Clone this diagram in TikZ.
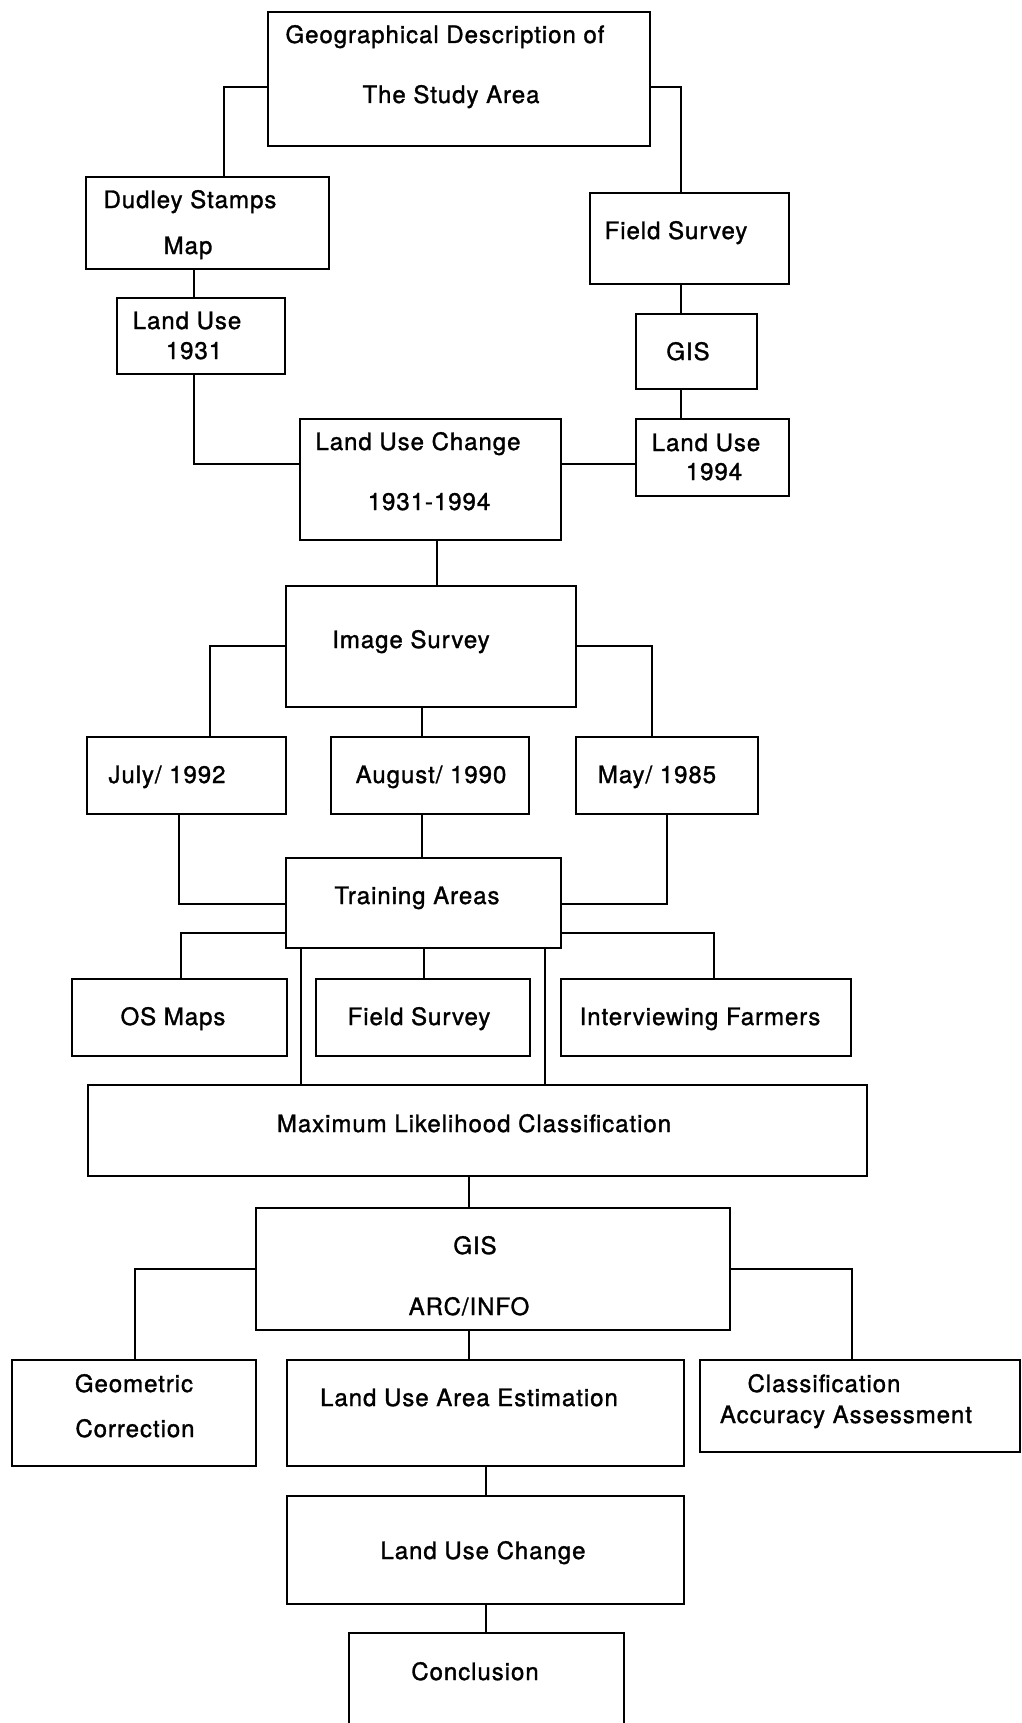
\documentclass[tikz,border=0pt]{standalone}
\usepackage{fontspec}
\setmainfont{TeX Gyre Heros}[LetterSpace=4,FakeBold=1.3]
\usetikzlibrary{fit}
\begin{document}
\begin{tikzpicture}[x=1pt,y=-1pt,
  box/.style={draw=black,line width=2.6pt,inner sep=0pt,fill=none},
  txt/.style={anchor=base,inner sep=0pt,font=\fontsize{24}{27}\selectfont},
  link/.style={draw=black,line width=2pt}]
\useasboundingbox[fill=white] (0,0) rectangle (1022,1723);
% boxes
\node[box,fit={(268,12)(650,146)}] (geo) {};
\node[box,fit={(86,177)(329,269)}] (dudley) {};
\node[box,fit={(117,298)(285,374)}] (lu31) {};
\node[box,fit={(590,193)(789,284)}] (fs1) {};
\node[box,fit={(636,314)(757,389)}] (gis1) {};
\node[box,fit={(636,419)(789,496)}] (lu94) {};
\node[box,fit={(300,419)(561,540)}] (luc1) {};
\node[box,fit={(286,586)(576,707)}] (imgs) {};
\node[box,fit={(87,737)(286,814)}] (july) {};
\node[box,fit={(331,737)(529,814)}] (aug) {};
\node[box,fit={(576,737)(758,814)}] (may) {};
\node[box,fit={(286,858)(561,948)}] (train) {};
\node[box,fit={(72,979)(287,1056)}] (os) {};
\node[box,fit={(316,979)(530,1056)}] (fs2) {};
\node[box,fit={(561,979)(851,1056)}] (intv) {};
\node[box,fit={(88,1085)(867,1176)}] (mlc) {};
\node[box,fit={(256,1208)(730,1330)}] (gisarc) {};
\node[box,fit={(12,1360)(256,1466)}] (geom) {};
\node[box,fit={(287,1360)(684,1466)}] (luae) {};
\node[box,fit={(700,1360)(1020,1452)}] (class) {};
\node[box,fit={(287,1496)(684,1604)}] (luc2) {};
\node[box,fit={(349,1633)(624,1745)}] (concl) {};
% texts
\node[txt] (geo1) at (445,43) {Geographical Description of};
\node[txt] (geo2) at (451,103) {The Study Area};
\node[txt] (dud1) at (190,208) {Dudley Stamps};
\node[txt] (dud2) at (188,254) {Map};
\node[txt] (lu31a) at (187,329) {Land Use};
\node[txt] (lu31b) at (194,359) {1931};
\node[txt] (fs1t) at (676,239) {Field Survey};
\node[txt] (gis1t) at (688,360) {GIS};
\node[txt] (lu94a) at (706,451) {Land Use};
\node[txt] (lu94b) at (714,480) {1994};
\node[txt] (luc1a) at (418,450) {Land Use Change};
\node[txt] (luc1b) at (429,510) {1931-1994};
\node[txt] (imgst) at (411,648) {Image Survey};
\node[txt] (julyt) at (167,783) {July/ 1992};
\node[txt] (augt) at (431,783) {August/ 1990};
\node[txt] (mayt) at (657,783) {May/ 1985};
\node[txt] (traint) at (417,904) {Training Areas};
\node[txt] (ost) at (173,1025) {OS Maps};
\node[txt] (fs2t) at (419,1025) {Field Survey};
\node[txt] (intvt) at (700,1025) {Interviewing Farmers};
\node[txt] (mlct) at (474,1132) {Maximum Likelihood Classification};
\node[txt] (gisa) at (475,1254) {GIS};
\node[txt] (gisb) at (469,1315) {ARC/INFO};
\node[txt] (geoma) at (134,1392) {Geometric};
\node[txt] (geomb) at (135,1437) {Correction};
\node[txt] (luaet) at (469,1406) {Land Use Area Estimation};
\node[txt] (classa) at (824,1392) {Classification};
\node[txt] (classb) at (846,1423) {Accuracy Assessment};
\node[txt] (luc2t) at (483,1559) {Land Use Change};
\node[txt] (conclt) at (475,1680) {Conclusion};
% connectors
\draw[link] (geo.west |- 0,87) -| (dudley.north -| 224,0);
\draw[link] (geo.east |- 0,87) -| (fs1.north -| 681,0);
\draw[link] (dudley.south -| 194,0) -- (lu31.north -| 194,0);
\draw[link] (lu31.south -| 194,0) |- (luc1.west |- 0,464);
\draw[link] (fs1.south -| 681,0) -- (gis1.north -| 681,0);
\draw[link] (gis1.south -| 681,0) -- (lu94.north -| 681,0);
\draw[link] (luc1.east |- 0,464) -- (lu94.west |- 0,464);
\draw[link] (luc1.south -| 437,0) -- (imgs.north -| 437,0);
\draw[link] (imgs.west |- 0,646) -| (july.north -| 210,0);
\draw[link] (imgs.east |- 0,646) -| (may.north -| 652,0);
\draw[link] (imgs.south -| 422,0) -- (aug.north -| 422,0);
\draw[link] (july.south -| 179,0) |- (train.west |- 0,904);
\draw[link] (aug.south -| 422,0) -- (train.north -| 422,0);
\draw[link] (may.south -| 667,0) |- (train.east |- 0,904);
\draw[link] (train.west |- 0,933) -| (os.north -| 181,0);
\draw[link] (train.east |- 0,933) -| (intv.north -| 714,0);
\draw[link] (train.south -| 424,0) -- (fs2.north -| 424,0);
\draw[link] (train.south -| 301,0) -- (mlc.north -| 301,0);
\draw[link] (train.south -| 545,0) -- (mlc.north -| 545,0);
\draw[link] (mlc.south -| 469,0) -- (gisarc.north -| 469,0);
\draw[link] (gisarc.west |- 0,1269) -| (geom.north -| 135,0);
\draw[link] (gisarc.east |- 0,1269) -| (class.north -| 852,0);
\draw[link] (gisarc.south -| 469,0) -- (luae.north -| 469,0);
\draw[link] (luae.south -| 486,0) -- (luc2.north -| 486,0);
\draw[link] (luc2.south -| 486,0) -- (concl.north -| 486,0);
\end{tikzpicture}
\end{document}
